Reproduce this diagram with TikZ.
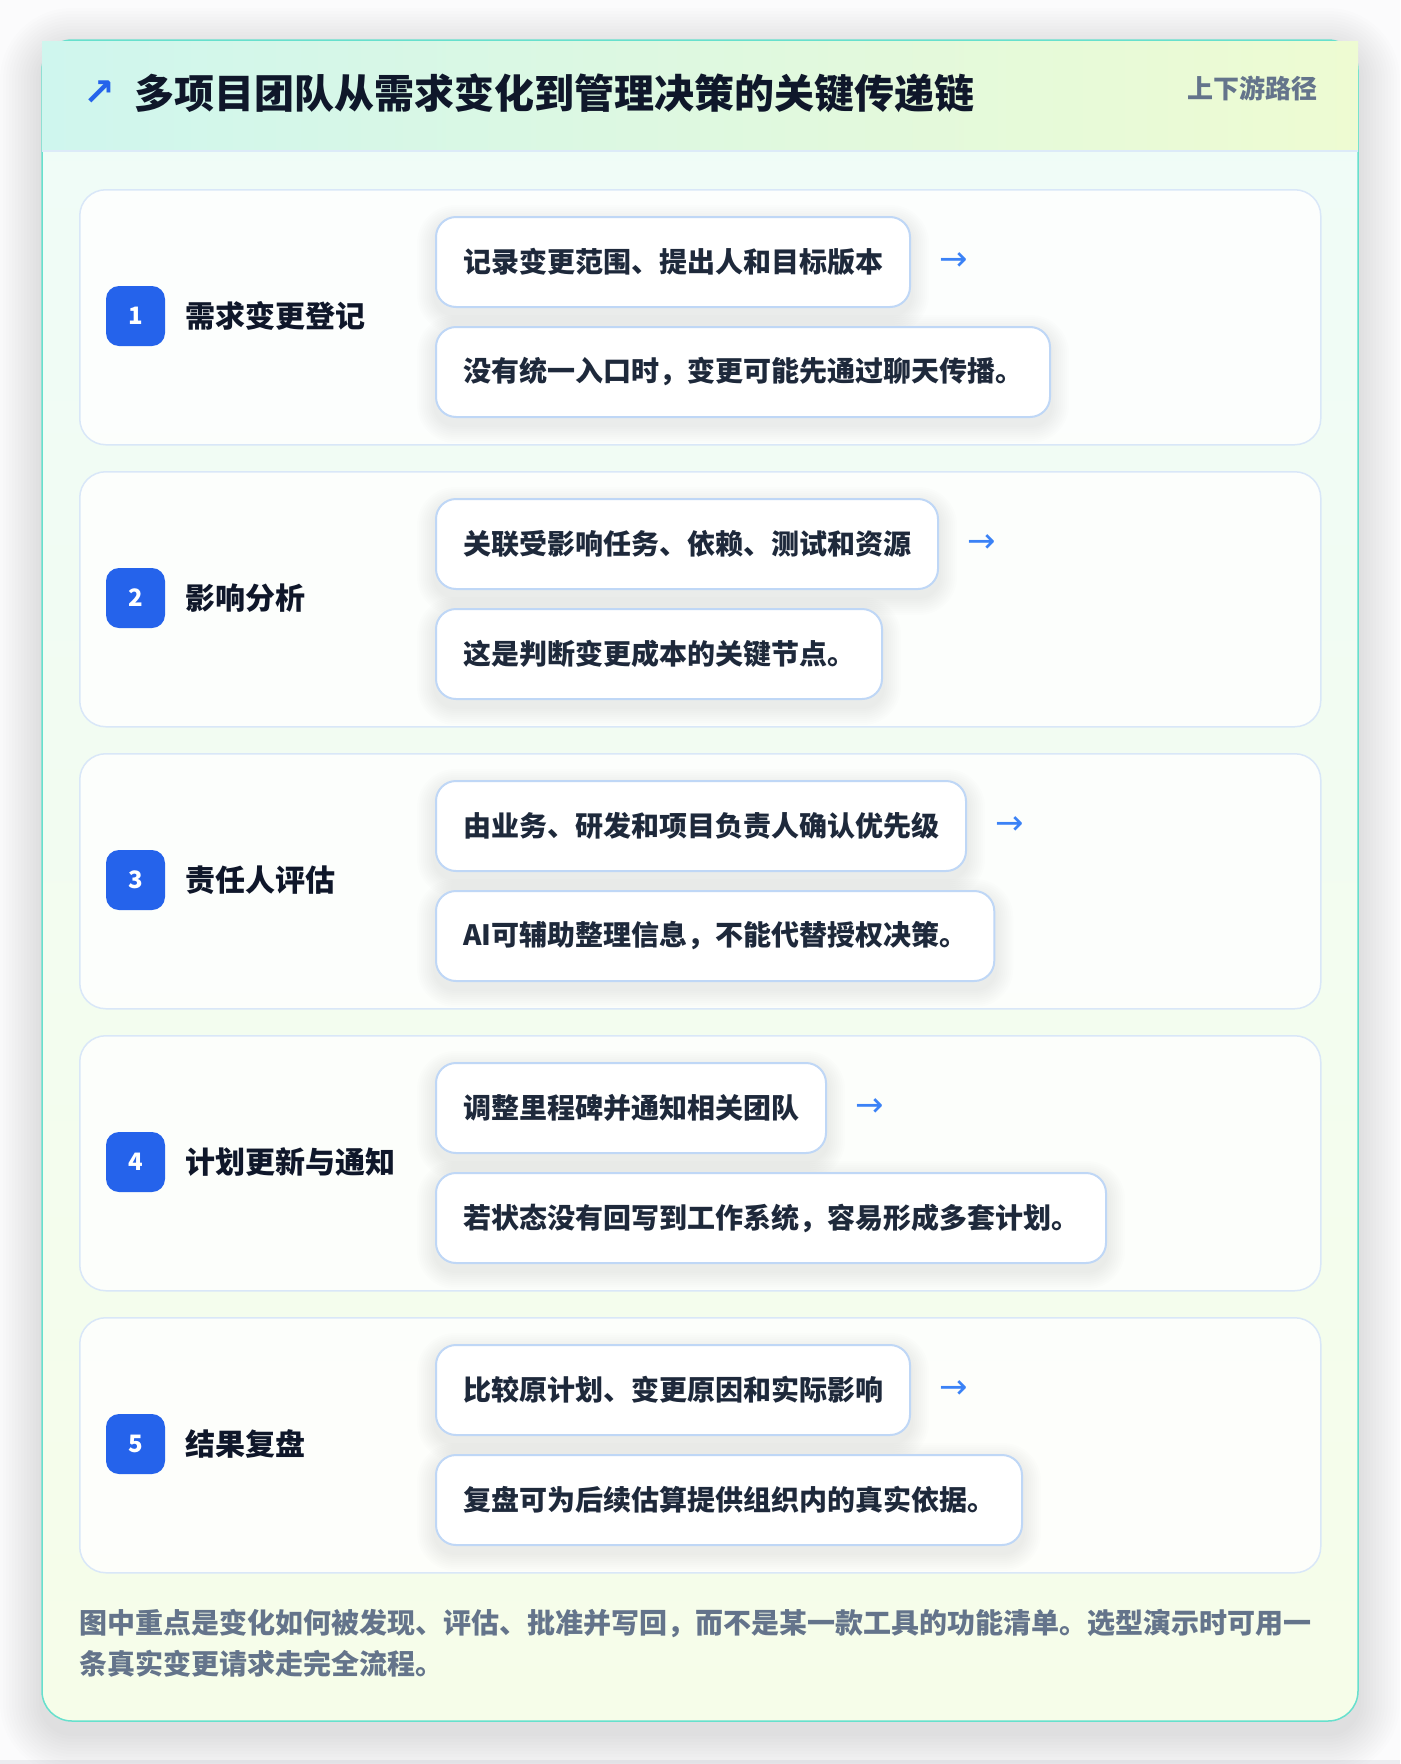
\documentclass[tikz,border=0pt]{standalone}
\usepackage{fontspec}
\setmainfont{Noto Sans CJK SC}
\newfontfamily\symfont{DejaVu Sans}
\definecolor{pagebg}{HTML}{FBFBFC}
\definecolor{outerborder}{HTML}{67E0CD}
\definecolor{bodytop}{HTML}{EFFCF8}
\definecolor{bodybot}{HTML}{F6FDE9}
\definecolor{hdrL}{HTML}{CFF6EE}
\definecolor{hdrR}{HTML}{EEFBD2}
\definecolor{hdrline}{HTML}{DCEAF8}
\definecolor{cardborder}{HTML}{D9E7F8}
\definecolor{bubborder}{HTML}{BFD7F6}
\definecolor{badgeblue}{HTML}{2563EB}
\definecolor{arrowblue}{HTML}{3B82F6}
\definecolor{ink}{HTML}{0F172A}
\definecolor{inktwo}{HTML}{1E293B}
\definecolor{muted}{HTML}{64748B}
\definecolor{shadowc}{HTML}{1E2A4A}
\definecolor{bandc}{HTML}{ECECF0}
\pgfdeclarelayer{bglayer}
\pgfdeclarelayer{shadlayer}
\pgfsetlayers{bglayer,shadlayer,main}
\tikzset{
  cardbox/.style={draw=cardborder, line width=1.5pt, fill=white, fill opacity=0.8,
    rounded corners=26pt, minimum width=1241pt, minimum height=255pt, anchor=north west, inner sep=0pt},
  badgebox/.style={fill=badgeblue, rounded corners=13pt, minimum width=59pt, minimum height=60pt,
    inner sep=0pt, text=white, font=\fontsize{24}{28}\selectfont\bfseries},
  labeltext/.style={anchor=west, inner sep=0pt, text=ink, font=\fontsize{30}{36}\selectfont\bfseries},
  bubble/.style={draw=bubborder, line width=2pt, fill=white, rounded corners=20pt,
    minimum height=90pt, inner xsep=27pt, inner ysep=0pt, anchor=west, text=inktwo,
    font=\fontsize{28}{34}\selectfont\bfseries},
  arrowtext/.style={anchor=west, inner sep=0pt, text=arrowblue, font=\symfont\fontsize{34}{38}\selectfont},
  foottext/.style={anchor=west, inner sep=0pt, text=muted, font=\fontsize{28}{34}\selectfont\bfseries},
}
\newcommand\bubshadow[1]{%
  \begin{pgfonlayer}{shadlayer}
  \foreach \k in {1,...,9}{%
    \pgfmathsetmacro\rc{20+2*\k}%
    \pgfmathsetmacro\ex{2*\k}%
    \fill[shadowc, fill opacity=0.009, rounded corners=\rc pt]
      ([xshift=-\ex pt, yshift=-7pt-\ex pt]#1.south west) rectangle ([xshift=\ex pt, yshift=-7pt+\ex pt]#1.north east);
  }%
  \end{pgfonlayer}}
\begin{document}
\begin{tikzpicture}[x=1pt,y=-1pt]
\begin{pgfonlayer}{bglayer}
\useasboundingbox[fill=pagebg] (0,0) rectangle (1400,1764);
\fill[bandc] (0,1760) rectangle (1400,1764);
% outer shadow
\foreach \k in {1,...,14}{%
  \pgfmathsetmacro\rc{30+3*\k}%
  \pgfmathsetmacro\ex{3*\k}%
  \fill[shadowc, fill opacity=0.008, rounded corners=\rc pt]
    (42-\ex,40-\ex+10) rectangle (1358+\ex,1721+\ex+12);
}
% outer card
\path[draw=outerborder, line width=1.5pt, rounded corners=30pt, top color=bodytop, bottom color=bodybot]
  (42,40) rectangle (1358,1721);
% header
\path[left color=hdrL, right color=hdrR] (42,41.5) rectangle (1358,151);
\draw[hdrline, line width=2pt] (42,151) -- (1358,151);
\end{pgfonlayer}
\node[anchor=center, inner sep=0pt, text=badgeblue, font=\symfont\bfseries\fontsize{38}{42}\selectfont] (icon) at (99,93) {↗};
\node[anchor=west, inner sep=0pt, text=ink, font=\fontsize{40}{48}\selectfont\bfseries] (title) at (134,93) {多项目团队从需求变化到管理决策的关键传递链};
\node[anchor=east, inner sep=0pt, text=muted, font=\fontsize{26}{30}\selectfont\bfseries] (tag) at (1318,88) {上下游路径};
% steps
\foreach \i/\T/\lab/\ta/\tb in {
  1/189/{需求变更登记}/{记录变更范围、提出人和目标版本}/{没有统一入口时，变更可能先通过聊天传播。},
  2/471/{影响分析}/{关联受影响任务、依赖、测试和资源}/{这是判断变更成本的关键节点。},
  3/753/{责任人评估}/{由业务、研发和项目负责人确认优先级}/{AI可辅助整理信息，不能代替授权决策。},
  4/1035/{计划更新与通知}/{调整里程碑并通知相关团队}/{若状态没有回写到工作系统，容易形成多套计划。},
  5/1317/{结果复盘}/{比较原计划、变更原因和实际影响}/{复盘可为后续估算提供组织内的真实依据。}}{
  \begin{pgfonlayer}{bglayer}
  \node[cardbox] (card\i) at (79,\T) {};
  \end{pgfonlayer}
  \node[badgebox] (badge\i) at (135.5,\T+127) {\i};
  \node[labeltext] (label\i) at (185,\T+127) {\lab};
  \node[bubble] (ba\i) at (435,\T+73) {\ta};
  \node[bubble] (bb\i) at (435,\T+183) {\tb};
  \bubshadow{ba\i}
  \bubshadow{bb\i}
  \node[arrowtext] (arr\i) at ([xshift=28pt]ba\i.east) {→};
}
% footer
\node[foottext] (foot1) at (79,1623) {图中重点是变化如何被发现、评估、批准并写回，而不是某一款工具的功能清单。选型演示时可用一};
\node[foottext] (foot2) at (79,1664) {条真实变更请求走完全流程。};
\end{tikzpicture}
\end{document}
